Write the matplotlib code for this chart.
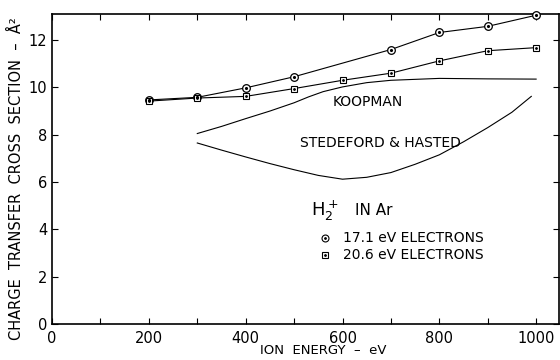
import numpy as np
import matplotlib.pyplot as plt

plt.rcParams['font.family'] = 'DejaVu Sans'

# measured points
energy = [200, 300, 400, 500, 600, 700, 800, 900, 1000]
sigma_171 = [9.47, 9.58, 9.98, 10.45, None, 11.6, 12.32, 12.58, 13.05]
sigma_206 = [9.42, 9.55, 9.62, 9.95, 10.3, 10.6, 11.12, 11.55, 11.68]

# theory curves
koop_e = [300, 350, 400, 450, 500, 530, 560, 600, 650, 700, 800, 900, 1000]
koop_s = [8.05, 8.35, 8.68, 9.0, 9.35, 9.6, 9.82, 10.02, 10.2, 10.3, 10.38, 10.36, 10.35]
sh_e = [300, 350, 400, 450, 500, 550, 600, 650, 700, 750, 800, 850, 900, 950, 990]
sh_s = [7.65, 7.35, 7.06, 6.78, 6.52, 6.28, 6.12, 6.2, 6.4, 6.75, 7.15, 7.7, 8.3, 8.95, 9.62]

xticks = [0, 200, 400, 600, 800, 1000]
yticks = [0, 2, 4, 6, 8, 10, 12]

fig = plt.figure(figsize=(5.6, 3.6), dpi=100)
ax = fig.add_axes([0.093, 0.1, 0.905, 0.861])

e1 = [e for e, s in zip(energy, sigma_171) if s is not None]
s1 = [s for s in sigma_171 if s is not None]
ax.plot(e1, s1, color='k', lw=0.8, zorder=2)
ax.plot(energy, sigma_206, color='k', lw=0.8, zorder=2)
ax.plot(koop_e, koop_s, color='k', lw=0.8)
ax.plot(sh_e, sh_s, color='k', lw=0.8)

ax.plot(e1, s1, 'o', ms=5.5, mfc='white', mec='k', mew=0.9, zorder=3, clip_on=False)
ax.plot(e1, s1, '.', ms=2.5, color='k', zorder=4, clip_on=False)
ax.plot(energy, sigma_206, 's', ms=4.2, mfc='white', mec='k', mew=0.8, zorder=3)
ax.plot(energy, sigma_206, '.', ms=2, color='k', zorder=4)

ax.text(652, 9.4, 'KOOPMAN', ha='center', va='center', fontsize=10)
ax.text(679, 7.63, 'STEDEFORD & HASTED', ha='center', va='center', fontsize=10)
ax.text(535, 4.8, r'H$_2^+$', ha='left', va='center', fontsize=13)
ax.text(625, 4.8, 'IN Ar', ha='left', va='center', fontsize=11)

ax.plot([563], [3.63], 'o', ms=5, mfc='white', mec='k', mew=0.8)
ax.plot([563], [3.63], '.', ms=2, color='k')
ax.plot([563], [2.9], 's', ms=4, mfc='white', mec='k', mew=0.8)
ax.plot([563], [2.9], '.', ms=2, color='k')
ax.text(600, 3.63, '17.1 eV ELECTRONS', ha='left', va='center', fontsize=10)
ax.text(600, 2.9, '20.6 eV ELECTRONS', ha='left', va='center', fontsize=10)

ax.set_xlim(0, 1047)
ax.set_ylim(0, 13.1)
ax.set_xticks(xticks)
ax.set_xticks(range(100, 1001, 200), minor=True)
ax.set_yticks(yticks)
ax.tick_params(direction='in', top=True, right=True, which='both', labelsize=10.5, length=4, width=0.8)
ax.tick_params(axis='x', pad=5)
for sp in ax.spines.values():
    sp.set_linewidth(1.2)

ax.set_xlabel('ION  ENERGY  –  eV', fontsize=9.5, labelpad=0)
ax.xaxis.set_label_coords(0.535, -0.066)
ax.set_ylabel('CHARGE  TRANSFER  CROSS  SECTION  –  Å²', fontsize=10.5)
ax.yaxis.set_label_coords(-0.055, 0.47)

fig.savefig('out.png', dpi=100)
